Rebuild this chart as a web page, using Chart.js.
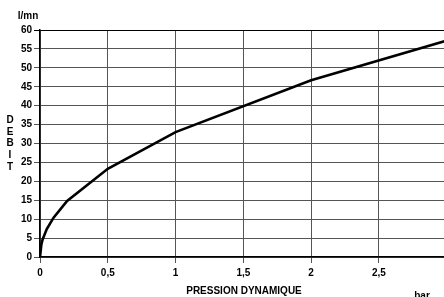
<!DOCTYPE html>
<html>
<head>
<meta charset="utf-8">
<script src="https://cdn.jsdelivr.net/npm/chart.js@4/dist/chart.umd.min.js"></script>
<style>
  html, body { margin: 0; padding: 0; background: #fff; }
  #wrap { width: 444px; height: 297px; }
</style>
</head>
<body>
<div id="wrap"><canvas id="debit-chart"></canvas></div>
<script>
// pression dynamique (bar) / debit (l/mn)
const pression = [0, 0.01, 0.02, 0.05, 0.1, 0.2, 0.5, 1, 2, 3]
const debit = [0, 3.3, 4.7, 7.4, 10.4, 14.8, 23.3, 33, 46.7, 57.2]
const yLetters = ['D', 'E', 'B', 'I', 'T']

const font = { family: "'Liberation Sans', Arial, sans-serif", size: 10, weight: 'bold' }

const extraText = {
  id: 'extraText',
  afterDraw(chart) {
    const c = chart.ctx
    const area = chart.chartArea
    c.save()
    c.fillStyle = '#000'
    c.font = "bold 10px 'Liberation Sans', Arial, sans-serif"
    c.textAlign = 'center'
    c.textBaseline = 'middle'
    c.fillText('l/mn', 28, 16)
    yLetters.forEach((l, i) => c.fillText(l, 10, 120 + i * 11.8))
    c.fillText('PRESSION DYNAMIQUE', 244, 291)
    c.fillText('bar', 422, 296)
    c.restore()
  }
}

new Chart(document.getElementById('debit-chart'), {
  type: 'scatter',
  data: {
    datasets: [{
      data: pression.map((p, i) => ({ x: p, y: debit[i] })),
      showLine: true,
      borderColor: '#000',
      borderWidth: 2.6,
      pointRadius: 0,
      tension: 0
    }]
  },
  options: {
    responsive: true,
    maintainAspectRatio: false,
    animation: false,
    layout: { padding: { top: 30, right: 0, left: 0, bottom: 0 } },
    plugins: {
      legend: { display: false },
      tooltip: { enabled: false }
    },
    scales: {
      x: {
        type: 'linear',
        min: 0,
        max: 2.98,
        afterFit(scale) { scale.height = 40 },
        border: { color: '#000', width: 1.5 },
        grid: { color: '#555', lineWidth: 1, tickLength: 6 },
        ticks: {
          stepSize: 0.5,
          includeBounds: false,
          color: '#000',
          font: font,
          padding: 4,
          maxRotation: 0,
          callback: v => String(v).replace('.', ',')
        }
      },
      y: {
        min: 0,
        max: 60,
        afterFit(scale) { scale.width = 40 },
        border: { color: '#000', width: 1.5 },
        grid: {
          color: ctx => ctx.tick && ctx.tick.value === 60 ? '#000' : '#555',
          lineWidth: 1,
          tickLength: 6
        },
        ticks: {
          stepSize: 5,
          color: '#000',
          font: font,
          padding: 2
        }
      }
    }
  },
  plugins: [extraText]
})
</script>
</body>
</html>
